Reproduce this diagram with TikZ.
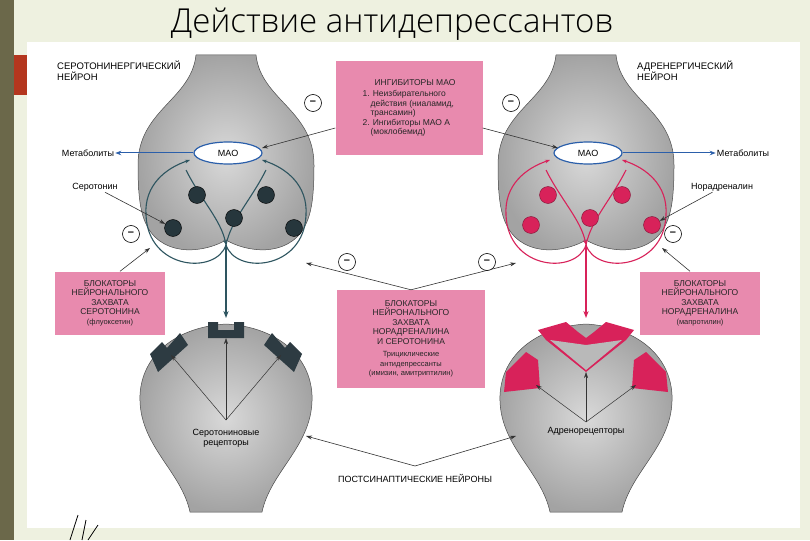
\documentclass[tikz,border=0pt]{standalone}
\usepackage{fontspec}
\setmainfont{Liberation Sans}
\newfontfamily\titlefont{Open Sans Light}
\usetikzlibrary{arrows.meta,shapes.geometric}
\definecolor{bgc}{HTML}{EEF1E0}
\definecolor{olive}{HTML}{6B684A}
\definecolor{rust}{HTML}{B4361E}
\definecolor{pinkbox}{HTML}{E88AAE}
\definecolor{teal}{HTML}{2E5560}
\definecolor{dotc}{HTML}{26363C}
\definecolor{magen}{HTML}{D8225A}
\definecolor{maob}{HTML}{2B5FAA}
\definecolor{recc}{HTML}{2D3B42}
\tikzset{
 every node/.style={font=\fontsize{9}{10}\selectfont, inner sep=1pt},
 pbox/.style={fill=pinkbox, align=center, inner sep=4pt, text=black!85},
 minus/.style={circle, draw=black, fill=white, line width=0.6pt, minimum size=17pt, inner sep=0pt, font=\bfseries\fontsize{11}{11}\selectfont},
 arr/.style={-{Stealth[length=6pt,width=4pt]}, line width=0.6pt, black!80},
 neur/.style={draw=black!70, line width=0.5pt, inner color=gray!30, outer color=gray!72},
 sdot/.style={circle, fill=dotc, draw=black, minimum size=17pt, inner sep=0pt},
 ndot/.style={circle, fill=magen, draw=magen!60!black, minimum size=17pt, inner sep=0pt},
}
\begin{document}
\begin{tikzpicture}[x=1pt,y=-1pt]
\useasboundingbox (0,0) rectangle (810,540);
\fill[bgc] (0,0) rectangle (810,540);
\fill[olive] (0,0) rectangle (14,540);
\fill[rust] (14,55) rectangle (27,95);
\node[font=\titlefont\fontsize{33}{33}\selectfont, text=black, anchor=base] (title) at (392,33) {Действие антидепрессантов};
\fill[white] (27,42) rectangle (800,528);
\draw[black, line width=0.8pt] (70,540) -- (78,515) (82,540) -- (86,520) (88,540) -- (98,525);

\foreach \cx in {226, 586}{
\begin{scope}[xshift=\cx]
\path[neur] (-30,55) .. controls (-35,100) and (-88,110) .. (-88,165)
  .. controls (-88,200) and (-85,215) .. (-78,228)
  .. controls (-60,258) and (-20,252) .. (0,240)
  .. controls (20,252) and (60,258) .. (78,228)
  .. controls (85,215) and (88,200) .. (88,165)
  .. controls (88,110) and (35,100) .. (30,55) -- cycle;
\path[neur] (-36,512) .. controls (-45,470) and (-88,445) .. (-86,395)
  .. controls (-84,355) and (-50,327) .. (0,324)
  .. controls (50,327) and (84,355) .. (86,395)
  .. controls (88,445) and (45,470) .. (36,512) -- cycle;
\end{scope}
}
\node[ellipse, draw=maob, line width=1.2pt, fill=white, minimum width=68pt, minimum height=22pt] (maoL) at (228,153) {MAO};
\node[ellipse, draw=maob, line width=1.2pt, fill=white, minimum width=68pt, minimum height=22pt] (maoR) at (588,153) {MAO};
\node (metL) at (88,153) {Метаболиты};
\node (metR) at (743,153) {Метаболиты};
\draw[-{Stealth[length=6pt]}, maob, line width=1pt] (maoL) -- (metL);
\draw[-{Stealth[length=6pt]}, maob, line width=1pt] (maoR) -- (metR);

\foreach \cx/\col in {226/teal, 586/magen}{
\begin{scope}[xshift=\cx]
\draw[\col, line width=1.1pt] (-80,215) .. controls (-78,270) and (-10,275) .. (0,245)
  .. controls (10,275) and (78,270) .. (80,215);
\draw[\col, line width=1.1pt, -{Stealth[length=5pt]}] (-80,215) .. controls (-82,185) and (-60,168) .. (-36,160);
\draw[\col, line width=1.1pt, -{Stealth[length=5pt]}] (80,215) .. controls (82,185) and (60,168) .. (36,160);
\draw[\col, line width=1.1pt, -{Stealth[length=5pt]}] (-40,170) .. controls (-25,200) and (-5,220) .. (0,245);
\draw[\col, line width=1.1pt] (40,170) .. controls (25,200) and (5,220) .. (0,245);
\draw[\col, line width=1.2pt, -{Stealth[length=7pt]}] (0,245) -- (0,318);
\end{scope}
}
\node[sdot] (s1) at (197,195) {};
\node[sdot] (s2) at (266,195) {};
\node[sdot] (s3) at (173,228) {};
\node[sdot] (s4) at (234,218) {};
\node[sdot] (s5) at (294,228) {};
\node[ndot] (n1) at (548,195) {};
\node[ndot] (n2) at (622,195) {};
\node[ndot] (n3) at (531,225) {};
\node[ndot] (n4) at (590,218) {};
\node[ndot] (n5) at (652,225) {};
\node (ser) at (95,187) {Серотонин};
\node (nor) at (722,187) {Норадреналин};
\draw[arr] (ser) -- (s3);
\draw[arr] (nor) -- (n5);

\node[anchor=north west, align=left, font=\fontsize{9.5}{11}\selectfont] (hL) at (56,60) {СЕРОТОНИНЕРГИЧЕСКИЙ\\НЕЙРОН};
\node[anchor=north west, align=left, font=\fontsize{9.5}{11}\selectfont] (hR) at (636,60) {АДРЕНЕРГИЧЕСКИЙ\\НЕЙРОН};

\node[pbox, minimum width=147pt, minimum height=94pt, align=left, font=\fontsize{8.5}{9.5}\selectfont] (mao) at (409,108) {\hspace*{12pt}ИНГИБИТОРЫ МАО\\[2pt]1. Неизбирательного\\\hspace*{8pt}действия (ниаламид,\\\hspace*{8pt}трансамин)\\2. Ингибиторы МАО А\\\hspace*{8pt}(моклобемид)};
\node[pbox, minimum width=110pt, minimum height=63pt, font=\fontsize{8.5}{9.5}\selectfont] (bL) at (110,303) {БЛОКАТОРЫ\\НЕЙРОНАЛЬНОГО\\ЗАХВАТА\\СЕРОТОНИНА\\{\fontsize{7.5}{9}\selectfont(флуоксетин)}};
\node[pbox, minimum width=120pt, minimum height=63pt, font=\fontsize{8.5}{9.5}\selectfont] (bR) at (700,303) {БЛОКАТОРЫ\\НЕЙРОНАЛЬНОГО\\ЗАХВАТА\\НОРАДРЕНАЛИНА\\{\fontsize{7.5}{9}\selectfont(мапротилин)}};
\node[pbox, minimum width=148pt, minimum height=98pt, font=\fontsize{8.5}{9.5}\selectfont] (bC) at (411,339) {БЛОКАТОРЫ\\НЕЙРОНАЛЬНОГО\\ЗАХВАТА\\НОРАДРЕНАЛИНА\\И СЕРОТОНИНА\\[3pt]{\fontsize{7.5}{8.5}\selectfont Трициклические}\\{\fontsize{7.5}{8.5}\selectfont антидепрессанты}\\{\fontsize{7.5}{8.5}\selectfont(имизин, амитриптилин)}};

\coordinate (tL) at (262,148);
\coordinate (tR) at (558,148);
\draw[arr] (mao.west) ++(0,20) -- (tL);
\draw[arr] (mao.east) ++(0,20) -- (tR);
\coordinate (gL) at (150,248);
\coordinate (gR) at (662,248);
\coordinate (cL) at (306,263);
\coordinate (cR) at (516,263);
\draw[arr] (bL.north) ++(10,0) -- (gL);
\draw[arr] (bR.north) ++(-10,0) -- (gR);
\draw[arr] (bC.north) -- (cL);
\draw[arr] (bC.north) -- (cR);

\node[minus] (m1) at (313,103) {--};
\node[minus] (m2) at (511,103) {--};
\node[minus] (m3) at (131,234) {--};
\node[minus] (m4) at (347,262) {--};
\node[minus] (m5) at (487,262) {--};
\node[minus] (m6) at (673,234) {--};

\begin{scope}[xshift=226]
\fill[recc] (-18,322) -- (-8,322) -- (-8,330) -- (8,330) -- (8,322) -- (18,322) -- (18,338) -- (-18,338) -- cycle;
\fill[recc] (-76,354) -- (-64,342) -- (-59,348) -- (-52,340) -- (-46,333) -- (-38,345) -- (-68,372) -- cycle;
\fill[recc] (76,354) -- (64,342) -- (59,348) -- (52,340) -- (46,333) -- (38,345) -- (68,372) -- cycle;
\coordinate (rl0) at (0,338);
\coordinate (rl1) at (-55,355);
\coordinate (rl2) at (55,355);
\end{scope}
\begin{scope}[xshift=586]
\fill[magen] (-48,330) -- (-20,322) -- (-8,332) -- (0,338) -- (8,332) -- (20,322) -- (48,330) -- (40,340) -- (0,372) -- (-40,340) -- cycle;
\fill[magen] (-80,372) -- (-60,352) -- (-48,360) -- (-46,388) -- (-82,392) -- cycle;
\fill[magen] (80,372) -- (60,352) -- (48,360) -- (46,388) -- (82,392) -- cycle;
\fill[gray!55] (-36,340) -- (0,370) -- (36,340) -- (0,345) -- cycle;
\coordinate (rr0) at (0,372);
\coordinate (rr1) at (-50,385);
\coordinate (rr2) at (50,385);
\end{scope}

\node[align=center] (lrec) at (226,438) {Серотониновые\\рецепторы};
\node (rrec) at (586,431) {Адренорецепторы};
\foreach \t in {rl0,rl1,rl2}{\draw[arr, line width=0.5pt] (226,420) -- (\t);}
\foreach \t in {rr0,rr1,rr2}{\draw[arr, line width=0.5pt] (586,422) -- (\t);}
\node (post) at (415,478) {ПОСТСИНАПТИЧЕСКИЕ НЕЙРОНЫ};
\coordinate (pL) at (306,436);
\coordinate (pR) at (516,436);
\draw[arr] (415,466) -- (pL);
\draw[arr] (415,466) -- (pR);
\end{tikzpicture}
\end{document}
